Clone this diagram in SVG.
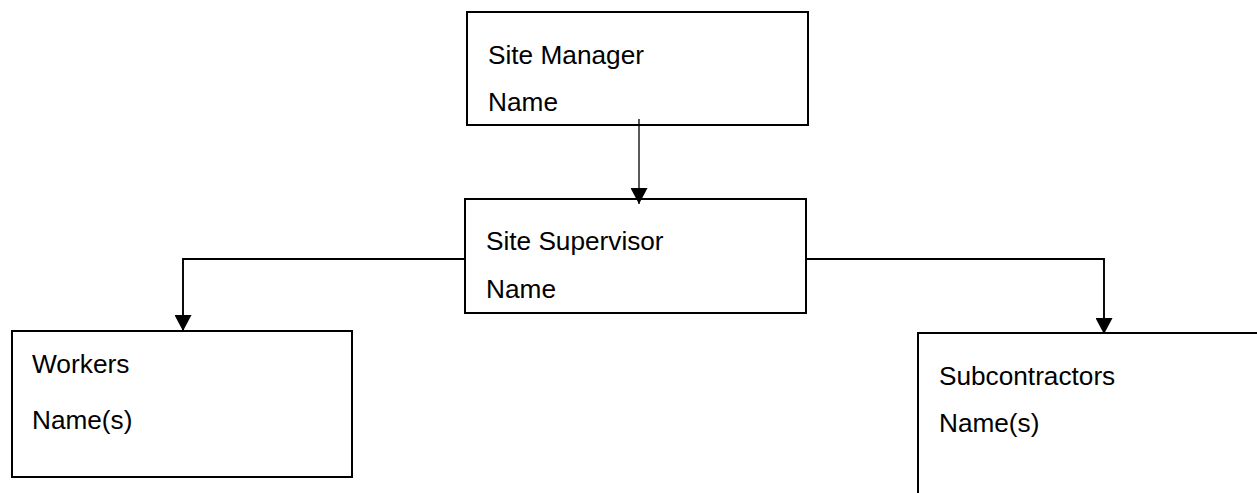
<svg xmlns="http://www.w3.org/2000/svg" width="1257" height="493" viewBox="0 0 1257 493">
  <style>
    .box { fill: #ffffff; stroke: #000000; stroke-width: 2; }
    .lbl { font-family: "Liberation Sans", Arial, sans-serif; font-size: 25px; fill: #000000; }
    .conn { fill: none; stroke: #000000; stroke-width: 1.9; }
    .thin { stroke-width: 1.3; }
  </style>
  <defs>
    <marker id="arrow" markerUnits="userSpaceOnUse" markerWidth="17" markerHeight="17" viewBox="0 -8 15 16" refX="15" refY="0" orient="auto">
      <path d="M0,-8 L15,0 L0,8 z" fill="#000000"/>
    </marker>
  </defs>
  <rect width="1257" height="493" fill="#ffffff"/>

  <g id="site-manager">
    <rect class="box" x="467" y="12" width="341" height="113"/>
    <text class="lbl" x="488" y="64" textLength="156" lengthAdjust="spacingAndGlyphs">Site Manager</text>
    <text class="lbl" x="488" y="111" textLength="70" lengthAdjust="spacingAndGlyphs">Name</text>
  </g>

  <g id="site-supervisor">
    <rect class="box" x="465" y="199" width="341" height="114"/>
    <text class="lbl" x="486" y="250" textLength="177.6" lengthAdjust="spacingAndGlyphs">Site Supervisor</text>
    <text class="lbl" x="486" y="298" textLength="70" lengthAdjust="spacingAndGlyphs">Name</text>
  </g>

  <g id="workers">
    <rect class="box" x="12" y="331" width="340" height="146"/>
    <text class="lbl" x="32" y="373" textLength="97.5" lengthAdjust="spacingAndGlyphs">Workers</text>
    <text class="lbl" x="32" y="429" textLength="100.4" lengthAdjust="spacingAndGlyphs">Name(s)</text>
  </g>

  <g id="subcontractors">
    <rect class="box" x="918" y="333" width="400" height="200"/>
    <text class="lbl" x="939" y="385" textLength="176.2" lengthAdjust="spacingAndGlyphs">Subcontractors</text>
    <text class="lbl" x="939" y="432" textLength="100.4" lengthAdjust="spacingAndGlyphs">Name(s)</text>
  </g>

  <g id="connectors">
    <path class="conn thin" d="M639,119 V204" marker-end="url(#arrow)"/>
    <path class="conn" d="M465,259 H183 V331" marker-end="url(#arrow)"/>
    <path class="conn" d="M806,259 H1104 V334" marker-end="url(#arrow)"/>
  </g>
</svg>
